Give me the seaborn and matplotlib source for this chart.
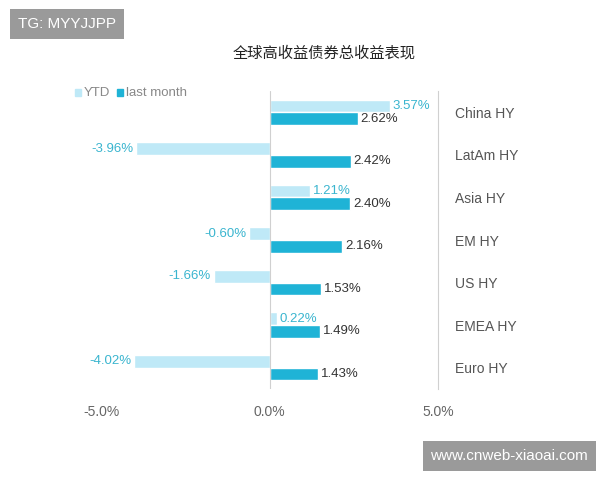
import pandas as pd
import matplotlib.pyplot as plt
import seaborn as sns

regions = ['China HY', 'LatAm HY', 'Asia HY', 'EM HY', 'US HY', 'EMEA HY', 'Euro HY']
ytd = [3.57, -3.96, 1.21, -0.60, -1.66, 0.22, -4.02]
last_month = [2.62, 2.42, 2.40, 2.16, 1.53, 1.49, 1.43]

df = pd.DataFrame({
    'region': regions * 2,
    'value': ytd + last_month,
    'series': ['YTD'] * 7 + ['last month'] * 7,
})

sns.set_style('white')
plt.rcParams['font.family'] = ['Liberation Sans', 'Noto Sans CJK SC', 'DejaVu Sans']

fig = plt.figure(figsize=(6, 4.8), dpi=100)
ax = fig.add_axes([0.135, 0.19, 0.595, 0.62])
colors = ['#bfe9f7', '#1fb3d6']
sns.barplot(data=df, y='region', x='value', hue='series', palette=colors, saturation=1,
            orient='h', width=0.6, ax=ax, legend=False)

for cont, col in zip(ax.containers, ['#3ab5cf', '#333333']):
    for bar in cont:
        v = bar.get_width()
        y = bar.get_y() + bar.get_height() / 2
        if v >= 0:
            ax.text(v + 0.08, y, f'{v:.2f}%', va='center', ha='left', fontsize=9.5, color=col)
        else:
            ax.text(v - 0.08, y, f'{v:.2f}%', va='center', ha='right', fontsize=9.5, color=col)

ax.set_xlim(-5.6, 5)
ax.set_xticks([-5, 0, 5])
ax.set_xticklabels(['-5.0%', '0.0%', '5.0%'], color='#666666', fontsize=10)
ax.tick_params(axis='x', length=0, pad=12)
ax.yaxis.tick_right()
ax.tick_params(axis='y', length=0, pad=12, labelsize=10, labelcolor='#555555')
ax.set_xlabel('')
ax.set_ylabel('')
for s in ['top', 'left', 'bottom']:
    ax.spines[s].set_visible(False)
ax.spines['right'].set_color('#d0d0d0')
ax.axvline(0, color='#d0d0d0', lw=0.8)

fig.text(0.54, 0.88, '全球高收益债券总收益表现', ha='center', fontsize=11, color='#222222',
         family=['Noto Sans CJK SC', 'DejaVu Sans'])
# legend
fig.patches.append(plt.Rectangle((0.125, 0.80), 0.01, 0.015, transform=fig.transFigure, color=colors[0]))
fig.text(0.14, 0.807, 'YTD', va='center', fontsize=9.5, color='#888888')
fig.patches.append(plt.Rectangle((0.195, 0.80), 0.01, 0.015, transform=fig.transFigure, color=colors[1]))
fig.text(0.21, 0.807, 'last month', va='center', fontsize=9.5, color='#888888')

fig.text(0.03, 0.95, 'TG: MYYJJPP', fontsize=11, color='white', va='center',
         bbox=dict(boxstyle='square,pad=0.5', fc='#9a9a9a', ec='none'))
fig.text(0.98, 0.05, 'www.cnweb-xiaoai.com', fontsize=11, color='white', va='center', ha='right',
         bbox=dict(boxstyle='square,pad=0.5', fc='#9a9a9a', ec='none'))

fig.savefig('out.png', dpi=100, facecolor='white')
